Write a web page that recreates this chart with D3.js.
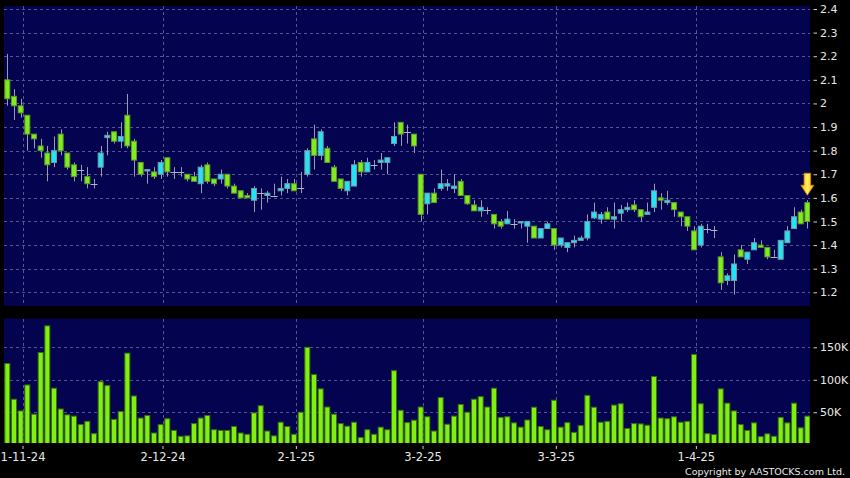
<!DOCTYPE html>
<html>
<head>
<meta charset="utf-8">
<script src="https://cdn.jsdelivr.net/npm/d3@7/dist/d3.min.js"></script>
<style>
html,body{margin:0;padding:0;background:#000;}
svg{display:block;}
text{font-family:"DejaVu Sans",Verdana,sans-serif;fill:#e8e8e8;}
</style>
</head>
<body>
<svg id="chart" width="850" height="478"></svg>
<script>
// ---------------- data ----------------
const dateLabels = ["1-11-24","2-12-24","2-1-25","3-2-25","3-3-25","1-4-25"];
const dateIndex  = [3, 24, 44, 63, 83, 104];
const priceTicks = [1.2,1.3,1.4,1.5,1.6,1.7,1.8,1.9,2.0,2.1,2.2,2.3,2.4];
const volumeTicks = [50000,100000,150000];

const opens = [2.10,2.03,1.99,1.95,1.87,1.82,1.79,1.75,1.87,1.79,1.74,1.72,1.69,1.66,1.73,1.855,1.88,1.84,1.95,1.84,
1.75,1.715,1.71,1.70,1.77,1.71,1.71,1.70,1.69,1.66,1.74,1.68,1.68,1.70,1.65,1.63,1.61,1.59,1.62,1.61,
1.61,1.63,1.64,1.66,1.64,1.70,1.85,1.78,1.81,1.73,1.68,1.63,1.65,1.75,1.71,1.74,1.75,1.75,1.83,1.92,
1.88,1.87,1.70,1.575,1.62,1.64,1.65,1.64,1.67,1.61,1.57,1.545,1.55,1.53,1.50,1.49,1.49,1.495,1.48,1.48,
1.43,1.47,1.47,1.40,1.39,1.41,1.42,1.43,1.515,1.51,1.54,1.51,1.535,1.55,1.57,1.55,1.53,1.56,1.60,1.58,
1.58,1.54,1.52,1.46,1.40,1.47,1.465,1.35,1.25,1.25,1.38,1.34,1.38,1.40,1.39,1.35,1.34,1.41,1.47,1.54,1.58];
const highs = [2.21,2.06,2.02,1.95,1.87,1.85,1.82,1.86,1.89,1.79,1.75,1.74,1.73,1.68,1.82,1.88,1.88,1.92,2.04,1.85,
1.75,1.72,1.73,1.76,1.77,1.73,1.73,1.70,1.71,1.74,1.75,1.68,1.72,1.70,1.66,1.63,1.62,1.65,1.64,1.63,
1.66,1.69,1.68,1.68,1.71,1.81,1.91,1.89,1.82,1.74,1.68,1.67,1.76,1.76,1.77,1.76,1.79,1.77,1.92,1.92,
1.91,1.87,1.70,1.62,1.64,1.72,1.68,1.70,1.68,1.61,1.59,1.59,1.56,1.53,1.51,1.545,1.51,1.50,1.50,1.48,
1.47,1.50,1.47,1.43,1.41,1.44,1.44,1.53,1.58,1.54,1.56,1.58,1.57,1.58,1.59,1.55,1.58,1.66,1.62,1.63,
1.58,1.54,1.52,1.48,1.49,1.49,1.48,1.37,1.28,1.36,1.40,1.37,1.43,1.42,1.39,1.38,1.42,1.48,1.56,1.55,1.59];
const lows = [1.99,1.93,1.94,1.80,1.81,1.77,1.67,1.73,1.78,1.72,1.67,1.67,1.64,1.64,1.69,1.78,1.83,1.81,1.81,1.69,
1.69,1.66,1.68,1.68,1.69,1.68,1.69,1.67,1.67,1.62,1.66,1.65,1.66,1.64,1.62,1.60,1.60,1.54,1.55,1.58,
1.61,1.61,1.62,1.63,1.62,1.69,1.72,1.76,1.75,1.67,1.63,1.61,1.65,1.69,1.71,1.72,1.72,1.70,1.82,1.82,
1.83,1.79,1.50,1.53,1.58,1.63,1.63,1.62,1.61,1.57,1.545,1.52,1.53,1.47,1.47,1.49,1.47,1.47,1.41,1.43,
1.43,1.47,1.38,1.39,1.37,1.39,1.42,1.42,1.51,1.49,1.51,1.47,1.50,1.54,1.54,1.50,1.53,1.54,1.55,1.57,
1.52,1.48,1.46,1.38,1.39,1.45,1.43,1.21,1.23,1.19,1.35,1.32,1.38,1.39,1.34,1.35,1.34,1.41,1.47,1.49,1.47];
const closes = [2.02,1.99,1.96,1.87,1.85,1.80,1.74,1.80,1.80,1.73,1.69,1.72,1.66,1.66,1.79,1.865,1.84,1.86,1.82,1.76,
1.70,1.72,1.69,1.75,1.71,1.71,1.71,1.68,1.67,1.73,1.67,1.66,1.70,1.65,1.62,1.60,1.60,1.64,1.62,1.62,
1.61,1.64,1.66,1.63,1.64,1.80,1.78,1.88,1.75,1.67,1.64,1.67,1.74,1.71,1.75,1.74,1.76,1.77,1.86,1.87,
1.88,1.82,1.53,1.62,1.58,1.66,1.66,1.65,1.61,1.575,1.545,1.56,1.55,1.49,1.48,1.51,1.49,1.50,1.50,1.43,
1.47,1.49,1.40,1.43,1.41,1.42,1.43,1.50,1.54,1.53,1.51,1.52,1.55,1.56,1.55,1.52,1.54,1.63,1.59,1.59,
1.55,1.52,1.48,1.38,1.48,1.47,1.465,1.24,1.27,1.32,1.35,1.37,1.41,1.39,1.35,1.35,1.42,1.46,1.52,1.49,1.50];
const volumes = [125000,70000,52000,92000,47000,142000,183000,87000,55000,46000,44000,31000,36000,17000,97000,91000,39000,51000,141000,75000,
41000,45000,18000,31000,40000,22000,13000,13600,32500,41000,45000,23000,22000,22000,28000,18000,16000,49000,60000,21000,
13600,34600,28000,16000,50000,150000,108000,86000,58000,47000,32500,28500,34600,11000,23000,16000,27000,23000,114000,53000,
34000,37700,58000,43000,21000,72600,31500,44000,62000,50000,70000,74000,58000,87000,42000,43000,33600,27000,38000,57700,
28000,23000,68500,27000,34000,19000,29500,76000,57700,34600,36000,61000,63000,25000,32500,32000,30000,105000,41000,40000,
43000,34600,36000,139000,63000,17000,15600,86000,64000,52000,31000,22000,33600,12500,16700,13000,42000,33600,64000,26000,44000];

// ---------------- layout ----------------
const svg = d3.select("#chart");
const left = 4, right = 810;
const pTop = 6, pBot = 306;
const vTop = 318.5, vBot = 443;
const n = closes.length;

const x = d3.scaleBand().domain(d3.range(n)).range([left, right + 0.7]).paddingInner(0.1).paddingOuter(0.05);
const xEdge = d3.scaleLinear().domain([0, n]).range([left, right + 0.7]);
const yP = d3.scaleLinear().domain([1.2, 2.4]).range([292.3, 9]);
const yV = d3.scaleLinear().domain([0, 150000]).range([444.7, 347.3]);

const navy = "#03034f";
const gridCol = "#54548e";

svg.append("rect").attr("width", 850).attr("height", 478).attr("fill", "#000");
svg.append("rect").attr("x", left).attr("y", pTop).attr("width", right - left).attr("height", pBot - pTop).attr("fill", navy);
svg.append("rect").attr("x", left).attr("y", vTop).attr("width", right - left).attr("height", vBot - vTop).attr("fill", navy);

svg.append("defs").call(d => {
  d.append("clipPath").attr("id", "cp").append("rect").attr("x", left).attr("y", pTop).attr("width", right - left).attr("height", pBot - pTop);
  d.append("clipPath").attr("id", "cv").append("rect").attr("x", left).attr("y", vTop).attr("width", right - left).attr("height", vBot - vTop);
  const g = d.append("linearGradient").attr("id", "arrowGrad").attr("x1", 0).attr("x2", 1).attr("y1", 0).attr("y2", 0);
  g.append("stop").attr("offset", "0%").attr("stop-color", "#ffb000");
  g.append("stop").attr("offset", "50%").attr("stop-color", "#fff060");
  g.append("stop").attr("offset", "100%").attr("stop-color", "#ffb000");
});

// grid lines
const grid = svg.append("g").attr("stroke", gridCol).attr("stroke-width", 1).attr("stroke-dasharray", "3,3").attr("shape-rendering", "crispEdges");
priceTicks.forEach(p => {
  const yy = Math.round(yP(p)) + 0.5;
  grid.append("line").attr("x1", left).attr("x2", right).attr("y1", yy).attr("y2", yy);
});
volumeTicks.forEach(v => {
  const yy = Math.round(yV(v)) + 0.5;
  grid.append("line").attr("x1", left).attr("x2", right).attr("y1", yy).attr("y2", yy);
});
dateIndex.forEach(k => {
  const xx = Math.round(xEdge(k)) - 0.5;
  grid.append("line").attr("x1", xx).attr("x2", xx).attr("y1", pTop).attr("y2", pBot);
  grid.append("line").attr("x1", xx).attr("x2", xx).attr("y1", vTop).attr("y2", vBot);
});

// candles
const cg = svg.append("g").attr("clip-path", "url(#cp)");
const bw = x.bandwidth();
d3.range(n).forEach(i => {
  const o = opens[i], c = closes[i], h = highs[i], l = lows[i];
  const cx = Math.round(x(i) + bw / 2) + 0.5;
  cg.append("line").attr("x1", cx).attr("x2", cx).attr("y1", yP(h)).attr("y2", yP(l))
    .attr("stroke", "#9a9ab0").attr("stroke-width", 1);
  if (o === c) {
    cg.append("line").attr("x1", x(i) - 0.5).attr("x2", x(i) + bw + 0.5).attr("y1", Math.round(yP(c)) + 0.5).attr("y2", Math.round(yP(c)) + 0.5)
      .attr("stroke", "#b4b4c8").attr("stroke-width", 1);
  } else {
    const up = c > o;
    const y1 = yP(Math.max(o, c)), y2 = yP(Math.min(o, c));
    cg.append("rect").attr("x", x(i) + 0.5).attr("y", y1).attr("width", bw - 1).attr("height", Math.max(1.5, y2 - y1))
      .attr("fill", up ? "#22e4f4" : "#80ec1e")
      .attr("stroke", up ? "#7896a8" : "#5c9a2a").attr("stroke-width", 1);
  }
});

// arrow above the last candle
const ax = x(n - 1) + bw / 2;
const tipY = yP(highs[n - 1]) - 5;
svg.append("path")
  .attr("d", `M${ax - 3.3},${tipY - 22} L${ax + 3.3},${tipY - 22} L${ax + 3.3},${tipY - 10} L${ax + 6.5},${tipY - 10} L${ax},${tipY} L${ax - 6.5},${tipY - 10} L${ax - 3.3},${tipY - 10} Z`)
  .attr("fill", "url(#arrowGrad)").attr("stroke", "#c88400").attr("stroke-width", 0.8);

// volume bars
const vg = svg.append("g").attr("clip-path", "url(#cv)");
vg.selectAll("rect").data(volumes).join("rect")
  .attr("x", (d, i) => x(i) + 0.5)
  .attr("y", d => yV(d))
  .attr("width", bw - 1)
  .attr("height", d => vBot + 2 - yV(d))
  .attr("fill", "#80f010").attr("stroke", "#3a7010").attr("stroke-width", 1);

// right price axis
const pAxis = d3.axisRight(yP).tickValues(priceTicks).tickSize(3.5).tickPadding(3)
  .tickFormat(d => String(+d.toFixed(1)));
const pa = svg.append("g").attr("transform", "translate(813.5,0)").call(pAxis);
pa.select(".domain").remove();
pa.selectAll("line").attr("stroke", "#d0d0d0");
pa.selectAll("text").style("font-size", "11px").attr("fill", "#e8e8e8");

// right volume axis
const vAxis = d3.axisRight(yV).tickValues(volumeTicks).tickSize(3.5).tickPadding(3)
  .tickFormat(d => (d / 1000) + "K");
const va = svg.append("g").attr("transform", "translate(813.5,0)").call(vAxis);
va.select(".domain").remove();
va.selectAll("line").attr("stroke", "#d0d0d0");
va.selectAll("text").style("font-size", "11px").attr("fill", "#e8e8e8");

// bottom date axis
const xAxis = d3.axisBottom(xEdge).tickValues(dateIndex).tickSize(3).tickPadding(4)
  .tickFormat((d, i) => dateLabels[i]);
const xa = svg.append("g").attr("transform", "translate(-1.5,446)").call(xAxis);
xa.select(".domain").remove();
xa.selectAll("line").attr("stroke", "#d0d0d0");
xa.selectAll("text").style("font-size", "11.5px").attr("fill", "#e8e8e8");

// copyright
svg.append("text").attr("x", 845).attr("y", 475).attr("text-anchor", "end")
  .style("font-size", "9.5px").attr("fill", "#e8e8e8").text("Copyright by AASTOCKS.com Ltd.");
</script>
</body>
</html>
